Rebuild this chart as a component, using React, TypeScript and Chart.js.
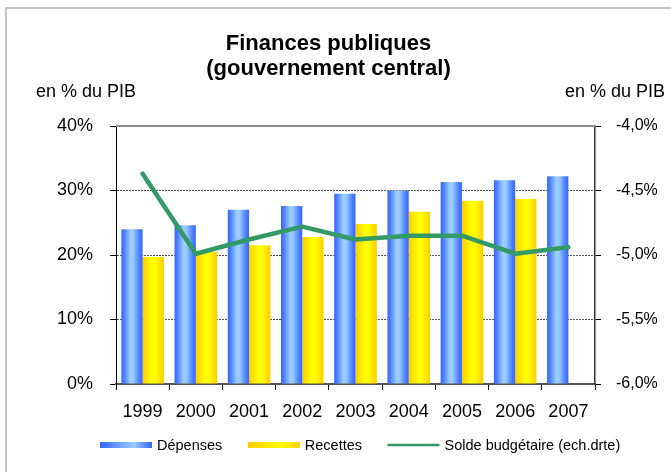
import React, { useEffect, useRef } from 'react';
import { Chart, registerables } from 'chart.js';

Chart.register(...registerables);

const years = ['1999', '2000', '2001', '2002', '2003', '2004', '2005', '2006', '2007'];
const depenses = [24.0, 24.6, 27.0, 27.6, 29.5, 30.0, 31.3, 31.6, 32.2];
const recettes = [19.7, 20.5, 21.5, 22.8, 24.8, 26.7, 28.4, 28.7, null];
const solde = [-4.37, -4.99, -4.88, -4.78, -4.88, -4.85, -4.85, -4.99, -4.94];

const titleLines = ['Finances publiques', '(gouvernement central)'];
const axisCaption = 'en % du PIB';
const seriesLabels = ['Dépenses', 'Recettes', 'Solde budgétaire (ech.drte)'];

const FONT = '"Liberation Sans", Arial, Helvetica, sans-serif';
const GREEN = '#339966';
const BLUE_STOPS: [number, string][] = [
  [0, '#3366ff'],
  [0.12, '#4a7bff'],
  [0.42, '#99ccff'],
  [0.55, '#99ccff'],
  [0.85, '#4d7fff'],
  [1, '#3366ff'],
];
const YELLOW_STOPS: [number, string][] = [
  [0, '#ffcc00'],
  [0.45, '#ffff00'],
  [0.6, '#ffff00'],
  [1, '#ffcc00'],
];
const LEGEND_BLUE: [number, string][] = [[0, '#3366ff'], [0.65, '#99ccff'], [1, '#3366ff']];
const LEGEND_YELLOW: [number, string][] = [[0, '#ffcc00'], [0.65, '#ffff00'], [1, '#ffcc00']];
const CAT_PCT = 0.8;

function barGradient(ctx: any, slot: number, stops: [number, string][]) {
  const chart = ctx.chart;
  const xs = chart.scales && chart.scales.x;
  if (!xs || ctx.type !== 'data' || !chart.chartArea) return stops[1][1];
  const center = xs.getPixelForValue(ctx.dataIndex);
  const catW = xs.width / years.length;
  const bw = (catW * CAT_PCT) / 2;
  const left = slot === 0 ? center - bw : center;
  const g = chart.ctx.createLinearGradient(left, 0, left + bw, 0);
  stops.forEach(([p, c]) => g.addColorStop(p, c));
  return g;
}

const decorPlugin = {
  id: 'decor',
  beforeDraw(chart: any) {
    const ctx = chart.ctx;
    ctx.save();
    ctx.fillStyle = '#ffffff';
    ctx.fillRect(0, 0, chart.width, chart.height);
    ctx.strokeStyle = '#c4c4c4';
    ctx.lineWidth = 2;
    ctx.strokeRect(6, 8, chart.width + 20, chart.height + 20);
    ctx.restore();
  },
  afterDraw(chart: any) {
    const ctx = chart.ctx;
    const { left, right, top } = chart.chartArea;
    ctx.save();
    ctx.strokeStyle = '#8c8c8c';
    ctx.lineWidth = 2;
    ctx.beginPath();
    ctx.moveTo(left, top);
    ctx.lineTo(right, top);
    ctx.stroke();

    ctx.fillStyle = '#000';
    ctx.font = `18px ${FONT}`;
    ctx.textBaseline = 'middle';
    ctx.textAlign = 'left';
    ctx.fillText(axisCaption, 36, 92);
    ctx.textAlign = 'right';
    ctx.fillText(axisCaption, 665, 92);

    const ds = chart.data.datasets;
    const items = [
      { label: ds[1].label, kind: 'bar', stops: LEGEND_BLUE },
      { label: ds[2].label, kind: 'bar', stops: LEGEND_YELLOW },
      { label: ds[0].label, kind: 'line', stops: null as any },
    ];
    ctx.font = `14.5px ${FONT}`;
    ctx.textAlign = 'left';
    const y = 445;
    const sw = 52;
    let x = 100;
    items.forEach((it) => {
      if (it.kind === 'bar') {
        const g = ctx.createLinearGradient(x, 0, x + sw, 0);
        it.stops.forEach(([p, c]: [number, string]) => g.addColorStop(p, c));
        ctx.fillStyle = g;
        ctx.fillRect(x, y - 3, sw, 6);
      } else {
        ctx.strokeStyle = GREEN;
        ctx.lineWidth = 2.5;
        ctx.beginPath();
        ctx.moveTo(x, y);
        ctx.lineTo(x + sw, y);
        ctx.stroke();
      }
      ctx.fillStyle = '#000';
      ctx.fillText(it.label, x + sw + 5, y + 1);
      x += sw + 5 + ctx.measureText(it.label).width + 25.5;
    });
    ctx.restore();
  },
};

export default function App() {
  const ref = useRef<HTMLCanvasElement | null>(null);

  useEffect(() => {
    if (!ref.current) return;
    Chart.defaults.font.family = FONT;
    const chart = new Chart(ref.current, {
      type: 'bar',
      data: {
        labels: years,
        datasets: [
          {
            type: 'line',
            label: seriesLabels[2],
            data: solde,
            yAxisID: 'y1',
            borderColor: GREEN,
            backgroundColor: GREEN,
            borderWidth: 4.5,
            pointRadius: 0,
            tension: 0,
            borderCapStyle: 'round',
            borderJoinStyle: 'round',
            order: 0,
          } as any,
          {
            type: 'bar',
            label: seriesLabels[0],
            data: depenses,
            yAxisID: 'y',
            backgroundColor: (c: any) => barGradient(c, 0, BLUE_STOPS),
            borderWidth: 0,
            categoryPercentage: CAT_PCT,
            barPercentage: 1,
            order: 1,
          } as any,
          {
            type: 'bar',
            label: seriesLabels[1],
            data: recettes,
            yAxisID: 'y',
            backgroundColor: (c: any) => barGradient(c, 1, YELLOW_STOPS),
            borderWidth: 0,
            categoryPercentage: CAT_PCT,
            barPercentage: 1,
            order: 2,
          } as any,
        ],
      },
      options: {
        responsive: false,
        animation: false,
        devicePixelRatio: 1,
        layout: { padding: { left: 0, right: 14, top: 0, bottom: 0 } },
        plugins: {
          legend: { display: false },
          tooltip: { enabled: false },
          title: {
            display: true,
            text: titleLines,
            color: '#000',
            font: { size: 22, weight: 'bold', lineHeight: 25.5 / 22, family: FONT },
            padding: { top: 31, bottom: 44 },
          },
        },
        scales: {
          x: {
            grid: {
              offset: true,
              drawOnChartArea: false,
              tickLength: 6,
              tickColor: '#000',
              color: '#000',
            },
            border: { color: '#555', width: 2 },
            ticks: { color: '#000', font: { size: 18 }, padding: 11, maxRotation: 0, autoSkip: false },
            afterFit: (s: any) => {
              s.height = 88;
            },
          },
          y: {
            position: 'left',
            min: 0,
            max: 40,
            grid: {
              color: (c: any) =>
                c.tick && (c.tick.value === 0 || c.tick.value === 40) ? 'rgba(0,0,0,0)' : '#555',
              tickColor: '#000',
              tickLength: 6,
              lineWidth: 1,
            },
            border: { color: '#000', width: 1, dash: [2, 1] },
            ticks: {
              stepSize: 10,
              color: '#000',
              font: { size: 18 },
              padding: 17,
              callback: (v: any) => `${v}%`,
            },
            afterFit: (s: any) => {
              s.width = 116;
            },
          },
          y1: {
            position: 'right',
            min: -6,
            max: -4,
            grid: { drawOnChartArea: false, tickColor: '#000', tickLength: 6 },
            border: { color: '#333', width: 1.5 },
            ticks: {
              stepSize: 0.5,
              color: '#000',
              font: { size: 16 },
              padding: 15,
              callback: (v: any) => `${Number(v).toFixed(1).replace('.', ',')}%`,
            },
            afterFit: (s: any) => {
              s.width = 62;
            },
          },
        },
      } as any,
      plugins: [decorPlugin],
    });
    return () => chart.destroy();
  }, []);

  return (
    <div style={{ position: 'fixed', left: 0, top: 0, width: 671, height: 472, background: '#fff' }}>
      <canvas ref={ref} width={671} height={472} style={{ display: 'block' }} />
    </div>
  );
}
